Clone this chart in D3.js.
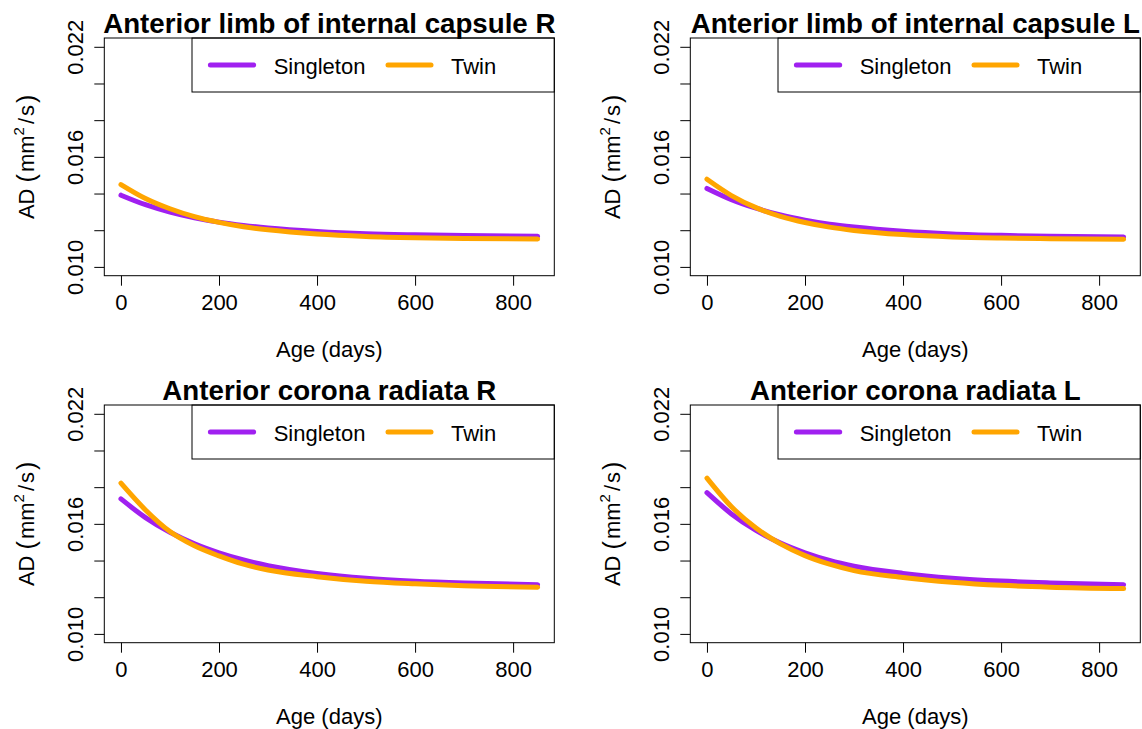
<!DOCTYPE html>
<html>
<head>
<meta charset="utf-8">
<script src="https://cdn.jsdelivr.net/npm/d3@7"></script>
<style>
  body { margin: 0; background: #fff; }
  svg { display: block; font-family: "Liberation Sans", Arial, sans-serif; }
  .axis text { font-size: 22px; fill: #000; }
  .axis line { stroke: #000; }
</style>
</head>
<body>
<div id="chart"></div>
<script>
const ages = [0, 50, 100, 150, 200, 250, 300, 400, 500, 600, 700, 850];

// AD values (mm^2/s)
const alicRSingleton = [0.01391, 0.01339, 0.01299, 0.01268, 0.01244, 0.01226, 0.01212, 0.01193, 0.01181, 0.01175, 0.01171, 0.01167];
const alicRTwin      = [0.01449, 0.01373, 0.01317, 0.01274, 0.01243, 0.01219, 0.01202, 0.01179, 0.01166, 0.01159, 0.01155, 0.01152];
const alicLSingleton = [0.01428, 0.01367, 0.01320, 0.01283, 0.01255, 0.01233, 0.01217, 0.01194, 0.01180, 0.01172, 0.01167, 0.01163];
const alicLTwin      = [0.01478, 0.01389, 0.01323, 0.01276, 0.01242, 0.01217, 0.01199, 0.01176, 0.01163, 0.01157, 0.01154, 0.01151];
const acrRSingleton  = [0.01736, 0.01634, 0.01554, 0.01491, 0.01442, 0.01403, 0.01372, 0.01330, 0.01303, 0.01287, 0.01277, 0.01268];
const acrRTwin       = [0.01822, 0.01676, 0.01558, 0.01480, 0.01425, 0.01380, 0.01348, 0.01312, 0.01287, 0.01273, 0.01263, 0.01255];
const acrLSingleton  = [0.01770, 0.01654, 0.01564, 0.01495, 0.01442, 0.01400, 0.01369, 0.01330, 0.01304, 0.01288, 0.01278, 0.01268];
const acrLTwin       = [0.01849, 0.01693, 0.01577, 0.01491, 0.01427, 0.01380, 0.01345, 0.01308, 0.01282, 0.01265, 0.01255, 0.01247];

const titles = [
    "Anterior limb of internal capsule R",
    "Anterior limb of internal capsule L",
    "Anterior corona radiata R",
    "Anterior corona radiata L"
];
const seriesNames = ["Singleton", "Twin"];
const seriesColors = ["#A020F0", "#FFA500"];
const xTicks = [0, 200, 400, 600, 800];
const yTicks = [0.010, 0.012, 0.014, 0.016, 0.018, 0.020, 0.022];
const yLabelled = [0.010, 0.016, 0.022];

const panels = [
    { title: titles[0], singleton: alicRSingleton, twin: alicRTwin, dx: 0, dy: 0 },
    { title: titles[1], singleton: alicLSingleton, twin: alicLTwin, dx: 586, dy: 0 },
    { title: titles[2], singleton: acrRSingleton, twin: acrRTwin, dx: 0, dy: 367 },
    { title: titles[3], singleton: acrLSingleton, twin: acrLTwin, dx: 586, dy: 367 }
];

const box = { left: 104.3, top: 38, width: 450, height: 237.7 };

const svg = d3.select("#chart").append("svg")
    .attr("width", 1142)
    .attr("height", 729);

const x = d3.scaleLinear().domain([-34, 884]).range([0, box.width]);
const y = d3.scaleLinear().domain([0.00952, 0.02248]).range([box.height, 0]);

const line = d3.line()
    .x((d) => x(d[0]))
    .y((d) => y(d[1]))
    .curve(d3.curveMonotoneX);

panels.forEach((p) => {
    const g = svg.append("g")
        .attr("transform", "translate(" + (p.dx + box.left) + "," + (p.dy + box.top) + ")");

    // x axis (ticks only, box gives the line)
    const xAxis = g.append("g")
        .attr("class", "axis")
        .attr("transform", "translate(0," + box.height + ")")
        .call(d3.axisBottom(x).tickValues(xTicks).tickSize(10).tickPadding(9).tickFormat(d3.format("d")));
    xAxis.select(".domain").remove();

    const yAxis = g.append("g")
        .attr("class", "axis")
        .call(d3.axisLeft(y).tickValues(yTicks).tickSize(10)
            .tickFormat((d) => yLabelled.some((v) => Math.abs(v - d) < 1e-9) ? d3.format(".3f")(d) : ""));
    yAxis.select(".domain").remove();
    yAxis.selectAll("text")
        .attr("x", null)
        .attr("dy", null)
        .attr("text-anchor", "middle")
        .attr("transform", "translate(-21,0) rotate(-90)");

    // curves
    [p.singleton, p.twin].forEach((vals, i) => {
        g.append("path")
            .datum(ages.map((a, j) => [a, vals[j]]))
            .attr("fill", "none")
            .attr("stroke", seriesColors[i])
            .attr("stroke-width", 5)
            .attr("stroke-linecap", "round")
            .attr("stroke-linejoin", "round")
            .attr("d", line);
    });

    // legend
    const lg = g.append("g").attr("transform", "translate(" + (box.width - 362.3) + ",0)");
    lg.append("rect")
        .attr("width", 362.3)
        .attr("height", 54)
        .attr("fill", "#fff")
        .attr("stroke", "#000")
        .attr("stroke-width", 1);
    const itemX = [[18.4, 61.7, 81.7], [196, 239, 259]];
    seriesNames.forEach((name, i) => {
        lg.append("line")
            .attr("x1", itemX[i][0]).attr("x2", itemX[i][1])
            .attr("y1", 27).attr("y2", 27)
            .attr("stroke", seriesColors[i])
            .attr("stroke-width", 5)
            .attr("stroke-linecap", "round");
        lg.append("text")
            .attr("x", itemX[i][2])
            .attr("y", 36)
            .attr("font-size", 22)
            .text(name);
    });

    // frame
    g.append("rect")
        .attr("width", box.width)
        .attr("height", box.height)
        .attr("fill", "none")
        .attr("stroke", "#000")
        .attr("stroke-width", 1);

    // title
    g.append("text")
        .attr("x", box.width / 2)
        .attr("y", -5)
        .attr("text-anchor", "middle")
        .attr("font-size", 27.7)
        .attr("font-weight", "bold")
        .text(p.title);

    // axis titles
    g.append("text")
        .attr("x", box.width / 2)
        .attr("y", box.height + 81)
        .attr("text-anchor", "middle")
        .attr("font-size", 22)
        .text("Age (days)");

    const yl = g.append("text")
        .attr("text-anchor", "middle")
        .attr("font-size", 22)
        .attr("transform", "translate(-70," + (box.height / 2) + ") rotate(-90)");
    yl.append("tspan").text("AD ");
    yl.append("tspan").attr("font-size", 25).attr("dy", 1).text("(");
    yl.append("tspan").attr("dy", -1).attr("dx", 2).text("mm");
    yl.append("tspan").attr("font-size", 15).attr("dy", -10).text("2");
    yl.append("tspan").attr("dy", 10).attr("dx", 3).text("/");
    yl.append("tspan").attr("dx", 2).text("s");
    yl.append("tspan").attr("font-size", 25).attr("dy", 1).attr("dx", 2).text(")");
});
</script>
</body>
</html>
